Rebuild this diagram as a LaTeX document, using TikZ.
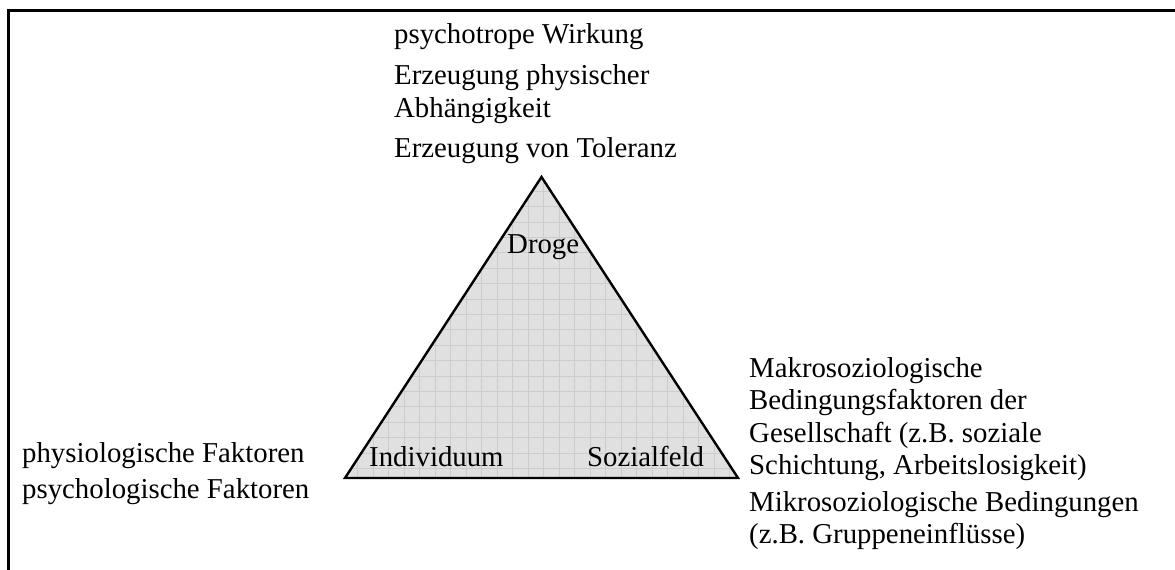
\documentclass[tikz,border=0pt]{standalone}
\usepackage{fontspec}
\setmainfont{Liberation Serif}
\begin{document}
\begin{tikzpicture}[x=1pt,y=-1pt,
  lbl/.style={anchor=base west,inner sep=0pt,font=\fontsize{28.8}{32.5}\selectfont},
  gridline/.style={draw=black!20,line width=0.8pt},
  frameline/.style={draw=black,line width=2.4pt},
  triline/.style={draw=black,line width=2.4pt,line join=miter}]
\useasboundingbox (0,0) rectangle (1175,570);
% frame (open at bottom and right)
\draw[frameline] (8.5,575) -- (8.5,10.5) -- (1180,10.5);
% triangle
\coordinate (apex) at (541.5,177);
\coordinate (bl) at (345,478);
\coordinate (br) at (738,478);
\begin{scope}
  \clip (apex) -- (bl) -- (br) -- cycle;
  \fill[black!12] (apex) -- (bl) -- (br) -- cycle;
  \foreach \i in {0,...,27} {
    \draw[gridline] ({326.7+15.5*\i},170) -- ({326.7+15.5*\i},485);
  }
  \foreach \j in {0,...,20} {
    \draw[gridline] (330,{175.7+15.4*\j}) -- (750,{175.7+15.4*\j});
  }
\end{scope}
\draw[triline] (apex) -- (bl) -- (br) -- cycle;
% corner labels
\node[lbl] (droge) at (507,253) {Droge};
\node[lbl] (indiv) at (369,466) {Individuum};
\node[lbl] (sozial) at (587,466) {Sozialfeld};
% top
\node[lbl] (t1) at (394,43) {psychotrope Wirkung};
\node[lbl] (t2) at (394,84) {Erzeugung physischer};
\node[lbl] (t3) at (394,117) {Abhängigkeit};
\node[lbl] (t4) at (394,157) {Erzeugung von Toleranz};
% left
\node[lbl] (l1) at (22,462) {physiologische Faktoren};
\node[lbl] (l2) at (22,498.5) {psychologische Faktoren};
% right
\node[lbl] (r1) at (749,377) {Makrosoziologische};
\node[lbl] (r2) at (749,409.5) {Bedingungsfaktoren der};
\node[lbl] (r3) at (749,442) {Gesellschaft (z.B. soziale};
\node[lbl] (r4) at (749,474.5) {Schichtung, Arbeitslosigkeit)};
\node[lbl] (r5) at (749,511) {Mikrosoziologische Bedingungen};
\node[lbl] (r6) at (749,543.5) {(z.B. Gruppeneinflüsse)};
\end{tikzpicture}
\end{document}
